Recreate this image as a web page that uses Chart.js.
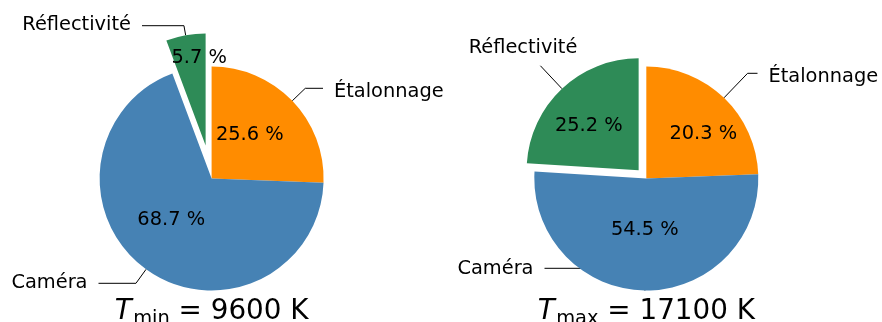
<!DOCTYPE html>
<html>
<head>
<meta charset="utf-8">
<script src="https://cdn.jsdelivr.net/npm/chart.js@4.4.1/dist/chart.umd.min.js"></script>
<style>
  html, body { margin: 0; padding: 0; background: #ffffff; }
  #wrap { position: relative; width: 882px; height: 322px; overflow: hidden; background: #ffffff; }
  #wrap canvas { position: absolute; left: 0; top: 0; }
</style>
</head>
<body>
<div id="wrap">
  <canvas id="baseL" width="882" height="322"></canvas>
  <canvas id="baseR" width="882" height="322"></canvas>
  <canvas id="overL" width="882" height="322"></canvas>
  <canvas id="overR" width="882" height="322"></canvas>
</div>
<script>
// ---------------- data ----------------
const categories = ['Étalonnage', 'Caméra', 'Réflectivité'];

// left pie (T_min)
const tminShares = [25.6, 68.7, 5.7];
const tminPctLabels = ['25.6 %', '68.7 %', '5.7 %'];
const tminExplode = [0, 0, 0.3];

// right pie (T_max) – slice sizes as drawn, percentage texts as printed
const tmaxShares = [24.4, 51.6, 24.0];
const tmaxPctLabels = ['20.3 %', '54.5 %', '25.2 %'];
const tmaxExplode = [0, 0, 0.1];

const titleSubs = ['min', 'max'];
const titleTemps = ['9600 K', '17100 K'];

const sliceColors = ['#ff8c00', '#4682b4', '#2e8b57'];

// ---------------- layout / style ----------------
const W = 882, H = 322;
const RADIUS = 112;
const LABEL_PX = 19.4, PCT_PX = 19.4, TITLE_PX = 27.8;
const FONT = '"DejaVu Sans", "Liberation Sans", sans-serif';
const TRANSPARENT = 'rgba(0,0,0,0)';

const pies = [
  {
    base: 'baseL', over: 'overL', cx: 211.6, cy: 178.5,
    values: tminShares, pct: tminPctLabels, explode: tminExplode,
    sub: titleSubs[0], temp: titleTemps[0], titleBaseline: 318.5,
    labelLayout: [
      { align: 'left',  x: 334,   baseline: 97.3,  lineY: 88.3 },
      { align: 'right', x: 87.5,  baseline: 288.3, lineY: 283.3 },
      { align: 'right', x: 131,   baseline: 30,    lineY: 25.7 }
    ],
    pctLayout: [
      { x: 249.8, baseline: 140 },
      { x: 171.2, baseline: 225 },
      { x: 199.2, baseline: 63.3 }
    ]
  },
  {
    base: 'baseR', over: 'overR', cx: 646.3, cy: 178.5,
    values: tmaxShares, pct: tmaxPctLabels, explode: tmaxExplode,
    sub: titleSubs[1], temp: titleTemps[1], titleBaseline: 318.5,
    labelLayout: [
      { align: 'left',   x: 768.5, baseline: 81.7,  lineY: 73.3 },
      { align: 'right',  x: 533.5, baseline: 274,   lineY: 268.3 },
      { align: 'center', x: 523,   baseline: 53.3,  lineY: 46 }
    ],
    pctLayout: [
      { x: 703.3, baseline: 139.3 },
      { x: 644.8, baseline: 235 },
      { x: 588.8, baseline: 130.7 }
    ]
  }
];

function midAngle(values, i) {
  const total = values.reduce((a, b) => a + b, 0);
  let before = 0;
  for (let k = 0; k < i; k++) before += values[k];
  return -Math.PI / 2 + 2 * Math.PI * (before + values[i] / 2) / total;
}

function paddingFor(cx, cy) {
  const w = Math.min(cx, W - cx), h = Math.min(cy, H - cy);
  return { left: cx - w, right: W - cx - w, top: cy - h, bottom: H - cy - h };
}

function labelBox(ctx, lab, text) {
  ctx.font = LABEL_PX + 'px ' + FONT;
  const w = ctx.measureText(text).width;
  const left = lab.align === 'left' ? lab.x : lab.align === 'right' ? lab.x - w : lab.x - w / 2;
  return { left, w };
}

function leaderPlugin(pie) {
  return {
    id: 'leaders',
    beforeDatasetsDraw(chart) {
      const ctx = chart.ctx;
      const meta = chart.getDatasetMeta(0);
      categories.forEach((cat, i) => {
        const arc = meta.data[i];
        const lab = pie.labelLayout[i];
        const mid = (arc.startAngle + arc.endAngle) / 2;
        const dx = Math.cos(mid), dy = Math.sin(mid);
        const ex = pie.explode[i] * arc.outerRadius;
        const px = arc.x + dx * (arc.outerRadius + ex);
        const py = arc.y + dy * (arc.outerRadius + ex);
        const t = (lab.lineY - py) / dy;
        const cxp = px + dx * t;
        const { left, w } = labelBox(ctx, lab, cat);
        const gapX = 11;
        const bx = left - gapX, by = lab.baseline - 0.95 * LABEL_PX - 4;
        const bw = w + 2 * gapX, bh = (lab.baseline + 12.4) - by;
        ctx.save();
        ctx.beginPath();
        ctx.rect(0, 0, W, H);
        ctx.rect(bx, by, bw, bh);
        ctx.clip('evenodd');
        ctx.beginPath();
        ctx.moveTo(left + w / 2, lab.lineY);
        ctx.lineTo(cxp, lab.lineY);
        ctx.lineTo(px, py);
        ctx.strokeStyle = '#000000';
        ctx.lineWidth = 1;
        ctx.stroke();
        ctx.restore();
      });
    }
  };
}

function textPlugin(pie) {
  return {
    id: 'texts',
    afterDatasetsDraw(chart) {
      const ctx = chart.ctx;
      ctx.save();
      ctx.fillStyle = '#000000';
      ctx.textBaseline = 'alphabetic';
      // category labels
      categories.forEach((cat, i) => {
        const lab = pie.labelLayout[i];
        ctx.font = LABEL_PX + 'px ' + FONT;
        ctx.textAlign = lab.align;
        ctx.fillText(cat, lab.x, lab.baseline);
      });
      // percentage labels
      pie.pct.forEach((txt, i) => {
        const p = pie.pctLayout[i];
        ctx.font = PCT_PX + 'px ' + FONT;
        ctx.textAlign = 'center';
        ctx.fillText(txt, p.x, p.baseline);
      });
      // title: T_sub = value
      ctx.textAlign = 'left';
      const subPx = TITLE_PX * 0.7;
      const rest = ' = ' + pie.temp;
      ctx.font = 'italic ' + TITLE_PX + 'px ' + FONT;
      const wT = ctx.measureText('T').width + 1.5;
      ctx.font = subPx + 'px ' + FONT;
      const wS = ctx.measureText(pie.sub).width;
      ctx.font = TITLE_PX + 'px ' + FONT;
      const wR = ctx.measureText(rest).width;
      let x = pie.cx - (wT + wS + wR) / 2;
      const b = pie.titleBaseline;
      ctx.font = 'italic ' + TITLE_PX + 'px ' + FONT;
      ctx.fillText('T', x, b);
      x += wT;
      ctx.font = subPx + 'px ' + FONT;
      ctx.fillText(pie.sub, x, b + 5.5);
      x += wS;
      ctx.font = TITLE_PX + 'px ' + FONT;
      ctx.fillText(rest, x, b);
      ctx.restore();
    }
  };
}

function makePie(canvasId, pie, visibleExploded, cx, cy, plugin) {
  const colors = sliceColors.map((c, i) => {
    const isEx = pie.explode[i] > 0;
    return (isEx === visibleExploded) ? c : TRANSPARENT;
  });
  return new Chart(document.getElementById(canvasId), {
    type: 'pie',
    data: {
      labels: categories,
      datasets: [{
        data: pie.values,
        backgroundColor: colors,
        borderWidth: 0,
        hoverOffset: 0
      }]
    },
    options: {
      responsive: false,
      maintainAspectRatio: false,
      devicePixelRatio: 1,
      animation: false,
      events: [],
      radius: RADIUS,
      layout: { padding: paddingFor(cx, cy) },
      plugins: { legend: { display: false }, tooltip: { enabled: false } }
    },
    plugins: [plugin]
  });
}

pies.forEach(pie => {
  makePie(pie.base, pie, false, pie.cx, pie.cy, leaderPlugin(pie));
});
pies.forEach(pie => {
  const i = pie.explode.findIndex(e => e > 0);
  const m = midAngle(pie.values, i);
  const ex = pie.explode[i] * RADIUS;
  makePie(pie.over, pie, true, pie.cx + Math.cos(m) * ex, pie.cy + Math.sin(m) * ex, textPlugin(pie));
});
</script>
</body>
</html>
